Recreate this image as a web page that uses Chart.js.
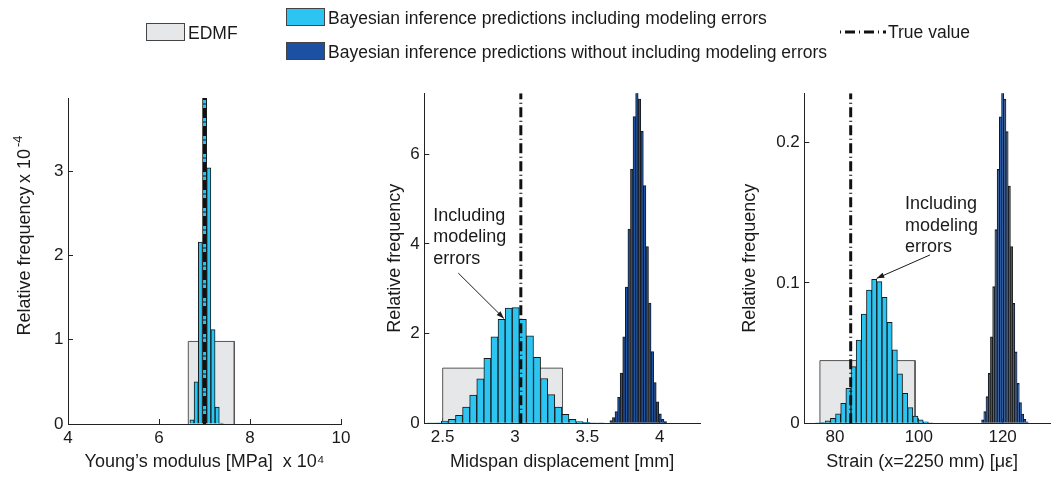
<!DOCTYPE html>
<html>
<head>
<meta charset="utf-8">
<script src="https://cdn.jsdelivr.net/npm/chart.js@4.4.1/dist/chart.umd.min.js"></script>
<style>
html, body { margin: 0; padding: 0; background: #fff; }
#page { position: relative; width: 1054px; height: 477px; overflow: hidden;
        font-family: "Liberation Sans", Arial, sans-serif; color: #1a1a1a; }
#page canvas { position: absolute; left: 0; top: 0; }
.key { position: absolute; font-size: 17.5px; line-height: 20px; white-space: nowrap; }
.swatch { position: absolute; width: 39px; height: 18px; box-sizing: border-box; border: 1px solid #444; }
</style>
</head>
<body>
<div id="page">
  <canvas id="young" width="1054" height="477"></canvas>
  <canvas id="midspan" width="1054" height="477"></canvas>
  <canvas id="strain" width="1054" height="477"></canvas>

  <div class="swatch" style="left:146px;top:23px;background:#e6e7e8;"></div>
  <div class="key" style="left:188px;top:23px;">EDMF</div>
  <div class="swatch" style="left:286px;top:8px;background:#2cc4f1;"></div>
  <div class="key" style="left:328px;top:8px;">Bayesian inference predictions including modeling errors</div>
  <div class="swatch" style="left:286px;top:42px;background:#1c50a3;"></div>
  <div class="key" style="left:328px;top:42px;">Bayesian inference predictions without including modeling errors</div>
  <svg style="position:absolute;left:840px;top:28px;" width="46" height="8">
    <line x1="0" y1="4" x2="46" y2="4" stroke="#111" stroke-width="3" stroke-dasharray="1 4 10 4"></line>
  </svg>
  <div class="key" style="left:888px;top:22px;">True value</div>
</div>

<script>
// Young's modulus panel (x in 10^4 MPa, y in 10^-4)
var youngX = [6.725, 6.8173, 6.9096, 7.0019, 7.0942, 7.1865, 7.2788, 7.3711];
var youngY = [0.05, 0.50, 2.16, 3.95, 3.04, 1.12, 0.20, 0.01];
var youngEdmf = [6.644, 7.655, 0.98];          // low, high, height
var youngTrue = 7.0;
var youngXRange = [4, 10];
var youngYRange = [0, 3.87];
var youngXTicks = [4, 6, 8, 10];
var youngYTicks = [0, 1, 2, 3];

// midspan displacement panel (mm)
var midLightX = [2.417, 2.466, 2.515, 2.564, 2.613, 2.662, 2.711, 2.760, 2.809, 2.858, 2.907, 2.956, 3.005,
                 3.054, 3.103, 3.152, 3.201, 3.250, 3.299, 3.348, 3.397, 3.446, 3.495, 3.544, 3.593];
var midLightY = [0.004, 0.01, 0.05, 0.09, 0.18, 0.36, 0.63, 0.99, 1.45, 1.93, 2.32, 2.57, 2.58,
                 2.32, 1.95, 1.47, 1.00, 0.64, 0.36, 0.20, 0.09, 0.04, 0.02, 0.01, 0.005];
var midDarkX = [3.6640, 3.6818, 3.6996, 3.7174, 3.7352, 3.7530, 3.7708, 3.7886, 3.8064, 3.8242, 3.8420,
                3.8598, 3.8776, 3.8954, 3.9132, 3.9310, 3.9488, 3.9666, 3.9844, 4.0022, 4.0200, 4.0378];
var midDarkY = [0.06, 0.13, 0.26, 0.58, 1.12, 1.93, 3.04, 4.33, 5.67, 6.84, 7.5,
                7.23, 6.51, 5.30, 3.94, 2.68, 1.60, 0.91, 0.48, 0.21, 0.09, 0.04];
var midEdmf = [2.5, 3.328, 1.23];
var midTrue = 3.04;
var midXRange = [2.373, 4.278];
var midYRange = [0, 7.36];
var midXTicks = [2.5, 3, 3.5, 4];
var midYTicks = [0, 2, 4, 6];

// strain panel (microstrain)
var strainLightX = [75.82, 77.05, 78.28, 79.51, 80.74, 81.97, 83.20, 84.43, 85.66, 86.89, 88.12, 89.35,
                    90.58, 91.81, 93.04, 94.27, 95.50, 96.73, 97.96, 99.19, 100.42, 101.65, 102.88];
var strainLightY = [0.0003, 0.0006, 0.0017, 0.0036, 0.0067, 0.0143, 0.025, 0.0404, 0.0594, 0.0779, 0.095, 0.1026,
                    0.101, 0.0898, 0.072, 0.0523, 0.0352, 0.0214, 0.0112, 0.0052, 0.0024, 0.001, 0.0004];
var strainDarkX = [115.23, 115.76, 116.29, 116.82, 117.35, 117.88, 118.41, 118.94, 119.47, 120.00, 120.53,
                   121.06, 121.59, 122.12, 122.65, 123.18, 123.71, 124.24, 124.77, 125.30, 125.83];
var strainDarkY = [0.0024, 0.0083, 0.019, 0.0356, 0.0617, 0.0974, 0.138, 0.181, 0.2185, 0.245, 0.231,
                   0.208, 0.169, 0.126, 0.0855, 0.051, 0.0285, 0.0147, 0.0066, 0.0028, 0.0011];
var strainEdmf = [76.4, 99.1, 0.0447];
var strainTrue = 83.74;
var strainXRange = [72.67, 131.3];
var strainYRange = [0, 0.2352];
var strainXTicks = [80, 100, 120];
var strainYTicks = [0, 0.1, 0.2];

var FONT = '"Liberation Sans", Arial, sans-serif';
var PAGE_W = 1054, PAGE_H = 477;
var TITLE_BOTTOM = 473.3;   // x title centre + half line height

Chart.defaults.font.family = FONT;
Chart.defaults.color = '#1a1a1a';
Chart.defaults.animation = false;

function pairs(xs, ys) {
    return xs.map(function(x, i) { return {x: x, y: ys[i]}; });
}

function setTicks(values) {
    return function(scale) {
        scale.ticks = values.map(function(v) { return {value: v}; });
    };
}

// annotation text + arrow, and the axis exponent label
var notePlugin = {
    id: 'notes',
    afterDatasetsDraw: function(chart, args, o) {
        var ctx = chart.ctx, x = chart.scales.x, y = chart.scales.y;
        ctx.save();
        ctx.fillStyle = '#1a1a1a';
        ctx.strokeStyle = '#1a1a1a';
        if (o.lines) {
            ctx.font = '18px ' + FONT;
            ctx.textAlign = 'left';
            ctx.textBaseline = 'middle';
            var tx = x.getPixelForValue(o.at[0]), ty = y.getPixelForValue(o.at[1]);
            o.lines.forEach(function(s, i) { ctx.fillText(s, tx, ty + i * 21.6); });

            var x0 = x.getPixelForValue(o.arrow[0]), y0 = y.getPixelForValue(o.arrow[1]);
            var x1 = x.getPixelForValue(o.arrow[2]), y1 = y.getPixelForValue(o.arrow[3]);
            var a = Math.atan2(y1 - y0, x1 - x0);
            ctx.lineWidth = 1;
            ctx.beginPath();
            ctx.moveTo(x0, y0);
            ctx.lineTo(x1, y1);
            ctx.stroke();
            ctx.beginPath();
            ctx.moveTo(x1, y1);
            ctx.lineTo(x1 - 8 * Math.cos(a - 0.35), y1 - 8 * Math.sin(a - 0.35));
            ctx.lineTo(x1 - 8 * Math.cos(a + 0.35), y1 - 8 * Math.sin(a + 0.35));
            ctx.closePath();
            ctx.fill();
        }
        if (o.expo) {
            ctx.translate(y.left + 10.8, chart.chartArea.top + o.expo.dy);
            ctx.rotate(-Math.PI / 2);
            ctx.textAlign = 'left';
            ctx.textBaseline = 'middle';
            ctx.font = '18px ' + FONT;
            ctx.fillText(o.expo.text, 0, 0);
            var w = ctx.measureText(o.expo.text).width;
            ctx.font = '13px ' + FONT;
            ctx.fillText(o.expo.sup, w + 2, -7);
        }
        ctx.restore();
    }
};

function makePanel(id, p) {
    var datasets = [{
        type: 'line',
        data: [{x: p.trueVal, y: 0}, {x: p.trueVal, y: p.yRange[1]}],
        borderColor: '#111',
        borderWidth: 3,
        borderDash: [10, 3.5, 1, 3.5],
        pointRadius: 0,
        clip: 0,
        order: 0
    }, {
        type: 'bar',
        data: pairs(p.lightX, p.lightY),
        backgroundColor: '#2cc4f1',
        borderColor: '#1a1a1a',
        borderWidth: 1,
        barPercentage: 1,
        categoryPercentage: 1,
        grouped: false,
        clip: 0,
        order: 2
    }, {
        type: 'line',
        data: [{x: p.edmf[0], y: 0}, {x: p.edmf[0], y: p.edmf[2]},
               {x: p.edmf[1], y: p.edmf[2]}, {x: p.edmf[1], y: 0}],
        borderColor: '#555',
        borderWidth: 1,
        backgroundColor: '#e6e7e8',
        fill: 'origin',
        pointRadius: 0,
        order: 4
    }];
    if (p.darkX) {
        datasets.push({
            type: 'bar',
            xAxisID: 'x2',
            data: pairs(p.darkX, p.darkY),
            backgroundColor: '#1f55a8',
            borderColor: '#1a1a1a',
            borderWidth: 1,
            barPercentage: 1,
            categoryPercentage: 1,
            grouped: false,
            clip: 0,
            order: 3
        });
    }

    var padLeft = p.yTitleX - 10.8;
    var yWidth = p.area.left - padLeft;
    var xHeight = TITLE_BOTTOM - p.area.bottom;
    var axisColor = '#222';

    return new Chart(document.getElementById(id), {
        type: 'bar',
        data: {datasets: datasets},
        plugins: [notePlugin],
        options: {
            responsive: false,
            layout: {padding: {left: padLeft, top: p.area.top, right: PAGE_W - p.area.right,
                               bottom: PAGE_H - TITLE_BOTTOM}},
            plugins: {legend: {display: false}, tooltip: {enabled: false}, notes: p.note || {}},
            scales: {
                x: {
                    type: 'linear',
                    min: p.xRange[0],
                    max: p.xRange[1],
                    offset: false,
                    afterBuildTicks: setTicks(p.xTicks),
                    afterFit: function(s) { s.height = xHeight; },
                    border: {color: axisColor, width: 1},
                    grid: {offset: false, drawOnChartArea: false, drawTicks: true, tickLength: -5, color: axisColor},
                    ticks: {font: {size: 17}, padding: 9, maxRotation: 0, color: '#1a1a1a',
                            callback: function(v) { return String(v); }},
                    title: {display: true, text: p.xTitle, font: {size: 18}, padding: 0, color: '#1a1a1a'}
                },
                x2: {
                    type: 'linear',
                    display: false,
                    min: p.xRange[0],
                    max: p.xRange[1],
                    offset: false,
                    afterBuildTicks: setTicks(p.xTicks)
                },
                y: {
                    type: 'linear',
                    min: p.yRange[0],
                    max: p.yRange[1],
                    afterBuildTicks: setTicks(p.yTicks),
                    afterFit: function(s) { s.width = yWidth; },
                    border: {color: axisColor, width: 1},
                    grid: {drawOnChartArea: false, drawTicks: true, tickLength: -5, color: axisColor},
                    ticks: {font: {size: 17}, padding: 9.5, color: '#1a1a1a',
                            callback: function(v) { return String(v); }},
                    title: {display: true, text: 'Relative frequency', font: {size: 18}, padding: 0, color: '#1a1a1a'}
                }
            }
        }
    });
}

makePanel('young', {
    lightX: youngX, lightY: youngY, edmf: youngEdmf, trueVal: youngTrue,
    xRange: youngXRange, yRange: youngYRange, xTicks: youngXTicks, yTicks: youngYTicks,
    xTitle: 'Young\u2019s modulus [MPa]  x 10\u2074',
    area: {left: 68, top: 98, right: 341, bottom: 424}, yTitleX: 25,
    note: {expo: {text: 'x 10', sup: '-4', dy: 85}}
});

makePanel('midspan', {
    lightX: midLightX, lightY: midLightY, darkX: midDarkX, darkY: midDarkY,
    edmf: midEdmf, trueVal: midTrue,
    xRange: midXRange, yRange: midYRange, xTicks: midXTicks, yTicks: midYTicks,
    xTitle: 'Midspan displacement [mm]',
    area: {left: 424.3, top: 93.3, right: 700, bottom: 423.3}, yTitleX: 395.5,
    note: {lines: ['Including', 'modeling', 'errors'], at: [2.435, 4.627],
           arrow: [2.608, 3.35, 2.923, 2.34]}
});

makePanel('strain', {
    lightX: strainLightX, lightY: strainLightY, darkX: strainDarkX, darkY: strainDarkY,
    edmf: strainEdmf, trueVal: strainTrue,
    xRange: strainXRange, yRange: strainYRange, xTicks: strainXTicks, yTicks: strainYTicks,
    xTitle: 'Strain (x=2250 mm) [\u03bc\u03b5]  ',
    area: {left: 804.3, top: 93.3, right: 1050, bottom: 423.3}, yTitleX: 750.5,
    note: {lines: ['Including', 'modeling', 'errors'], at: [96.7, 0.1563],
           arrow: [102.67, 0.12, 89.95, 0.1033]}
});
</script>
</body>
</html>
